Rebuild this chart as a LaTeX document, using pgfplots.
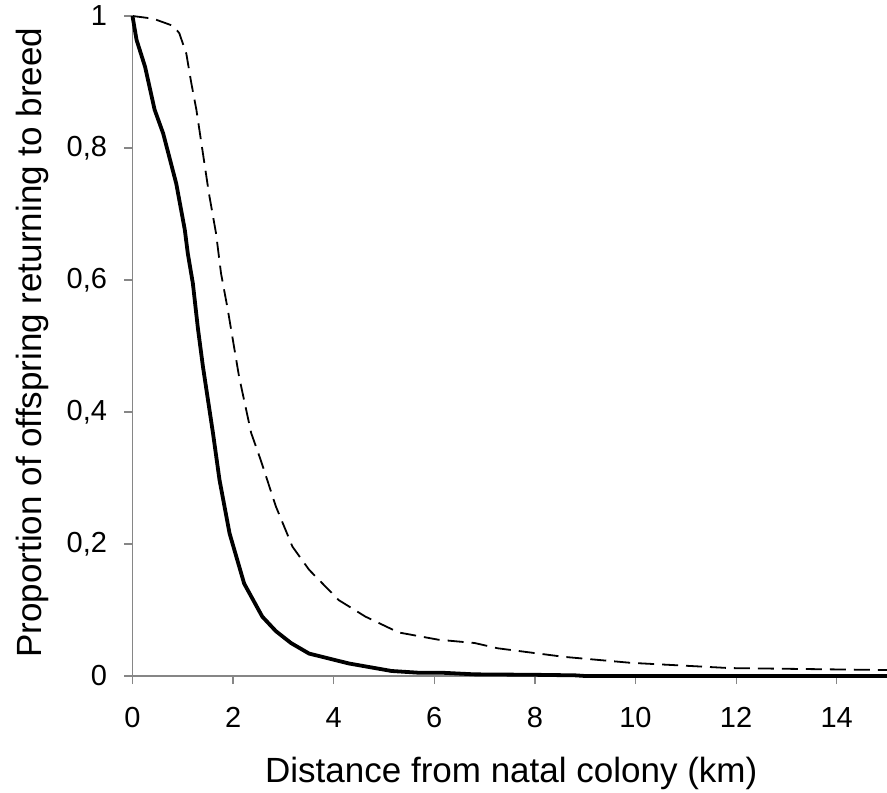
\documentclass[border=0pt]{standalone}
\usepackage{pgfplots}
\pgfplotsset{compat=1.18}
\usepackage{fontspec}
\setmainfont{Liberation Sans}
\definecolor{axgray}{RGB}{134,134,134}
\pgfplotstableread{
x y
0 1.0
0.08 0.964
0.25 0.923
0.44 0.858
0.61 0.822
0.87 0.746
1.04 0.676
1.10 0.640
1.20 0.595
1.30 0.527
1.40 0.469
1.60 0.368
1.73 0.297
1.93 0.216
2.22 0.140
2.58 0.090
2.85 0.068
3.15 0.050
3.51 0.034
4.30 0.019
5.15 0.0076
5.68 0.005
6.14 0.005
6.8 0.0025
8.0 0.0018
8.8 0.001
9.0 0
15 0
}\solid
\pgfplotstableread{
x y
0 1.0
0.41 0.996
0.81 0.985
0.93 0.974
1.07 0.943
1.17 0.898
1.27 0.858
1.39 0.797
1.52 0.731
1.66 0.671
1.76 0.610
1.89 0.557
2.12 0.453
2.36 0.368
2.55 0.327
2.85 0.257
3.18 0.196
3.51 0.161
4.10 0.115
4.63 0.090
5.29 0.066
6.08 0.055
6.80 0.050
7.26 0.042
8.58 0.029
9.90 0.020
11.87 0.012
15 0.009
}\dashed
\begin{document}
\begin{tikzpicture}
\begin{axis}[
  name=ax,
  scale only axis,
  width=754.5pt, height=660pt,
  xmin=0, xmax=15, ymin=0, ymax=1,
  axis x line*=bottom, axis y line*=left,
  axis line style={axgray, line width=1.5pt, -},
  xtick={0,2,...,14},
  ytick={0,0.2,0.4,0.6,0.8,1},
  yticklabels={0,{0,2},{0,4},{0,6},{0,8},1},
  tick align=outside,
  major tick length=8pt,
  tick style={axgray, line width=1.2pt},
  ticklabel style={font=\fontsize{29}{33}\selectfont},
  /pgf/number format/assume math mode=true,
  xticklabel style={yshift=-20pt},
  yticklabel style={xshift=-14pt},
  xlabel={Distance from natal colony (km)},
  ylabel={Proportion of offspring returning to breed},
  every axis x label/.style={at={(axis description cs:0.502,-0.148)}, anchor=center, font=\fontsize{35}{40}\selectfont},
  every axis y label/.style={at={(axis description cs:-0.133,0.505)}, anchor=center, rotate=90, font=\fontsize{35}{40}\selectfont},
  clip=false,
]
\addplot[black, line width=3.8pt, line join=round] table {\solid};
\addplot[black, line width=1.8pt, dash pattern=on 16pt off 8pt] table {\dashed};
\end{axis}
\pgfresetboundingbox
\path ([xshift=-132.5pt,yshift=-117pt]ax.south west) rectangle ([yshift=16pt]ax.north east);
\end{tikzpicture}
\end{document}
